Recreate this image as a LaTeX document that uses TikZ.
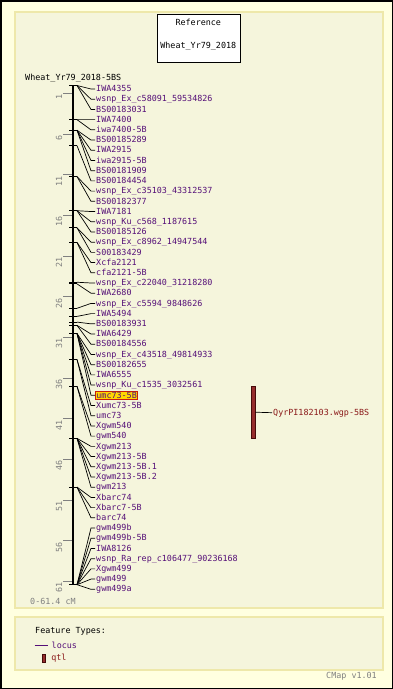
\documentclass[tikz,border=0pt]{standalone}
\usepackage{fontspec}
\setmonofont{DejaVu Sans Mono}
\definecolor{cmapbg}{RGB}{255, 255, 224}
\definecolor{cmappanel}{RGB}{245, 245, 220}
\definecolor{cmapedge}{RGB}{238, 232, 170}
\definecolor{cmapgray}{RGB}{128, 128, 128}
\definecolor{locuspurple}{RGB}{85, 15, 120}
\definecolor{qtlred}{RGB}{139, 26, 26}
\definecolor{qtlfill}{RGB}{150, 45, 45}
\definecolor{qtledge}{RGB}{70, 10, 10}
\definecolor{hiliteyellow}{RGB}{255, 215, 0}
\definecolor{hilitered}{RGB}{200, 30, 10}
\usetikzlibrary{positioning}
\tikzset{
    cmaptext/.style={font=\ttfamily\fontsize{8.4}{10}\selectfont, inner sep=1pt,
                     text height=6pt, text depth=0.6pt},
    marker/.style={cmaptext, text=locuspurple, anchor=west},
    hilite/.style={marker, draw=hilitered, fill=hiliteyellow, line width=0.8pt},
    scalelabel/.style={cmaptext, text=cmapgray, rotate=90, anchor=base east},
    graytext/.style={cmaptext, text=cmapgray},
    panel/.style={draw=cmapedge, fill=cmappanel, line width=2pt},
    refbox/.style={draw=black, fill=white, line width=0.8pt, minimum width=83pt, minimum height=48pt},
    axis/.style={line width=2.2pt, black},
    markertick/.style={line width=1pt, black},
    scaletick/.style={line width=1pt, cmapgray},
    fanline/.style={line width=0.7pt, black},
    qtlbar/.style={draw=qtledge, fill=qtlfill, line width=0.8pt, inner sep=0pt, minimum width=3.5pt},
}

\begin{document}
\begin{tikzpicture}[x=1pt, y=-1pt]
    \useasboundingbox (0,0) rectangle (393,689);
    % Background and panels
    \fill[cmapbg] (0,0) rectangle (393,689);
    \draw[panel] (15,12) rectangle (383,608);
    \draw[panel] (15,617) rectangle (383,670);
    \draw[black, line width=1.5pt] (0.75,0.75) rectangle (392.25,688.25);

    % Reference box
    \node[refbox] (refbox) at (198.6,38.3) {};
    \node[cmaptext] (reftitle) at (198.3,22.5) {Reference};
    \node[cmaptext] (refmap) at (198.3,45.7) {Wheat\_Yr79\_2018};

    % Map axis
    \node[cmaptext, anchor=west] (maptitle) at (24,77.7) {Wheat\_Yr79\_2018-5BS};
    \coordinate (axtop) at (73,85.5);
    \coordinate (axbot) at (73,584.7);
    \draw[axis] (axtop) -- (axbot);
    \draw[markertick] ([xshift=-4pt]axtop) -- ([xshift=4pt]axtop);
    \draw[markertick] ([xshift=-4pt]axbot) -- ([xshift=4pt]axbot);
    \foreach \s in {1,6,...,61}{
        \pgfmathsetmacro\sy{85.5+8.13*\s}
        \draw[scaletick] (63,\sy) -- (72,\sy);
        \node[scalelabel] (s\s) at (62,\sy) {\s};
    }
    \node[graytext, anchor=west] (range) at (29,601.7) {0-61.4 cM};

    % Loci
    \foreach \cm/\name [count=\i from 0] in {
        0/IWA4355, 0/wsnp\_Ex\_c58091\_59534826, 0/BS00183031,
        4.2/IWA7400, 4.2/iwa7400-5B,
        5.5/BS00185289, 5.5/IWA2915, 5.5/iwa2915-5B, 5.5/BS00181909,
        7.4/BS00184454,
        11.2/wsnp\_Ex\_c35103\_43312537, 11.2/BS00182377,
        15.4/IWA7181, 15.4/wsnp\_Ku\_c568\_1187615, 15.4/BS00185126,
        17.5/wsnp\_Ex\_c8962\_14947544, 17.5/S00183429,
        19.3/Xcfa2121, 19.3/cfa2121-5B,
        24.2/wsnp\_Ex\_c22040\_31218280, 24.4/IWA2680,
        27.4/wsnp\_Ex\_c5594\_9848626, 28.4/IWA5494, 29.1/BS00183931,
        29.5/IWA6429, 29.5/BS00184556,
        30.5/wsnp\_Ex\_c43518\_49814933, 30.5/BS00182655, 30.5/IWA6555,
        30.5/wsnp\_Ku\_c1535\_3032561, 30.5/umc73-5B,
        33.7/Xumc73-5B, 33.7/umc73,
        37.0/Xgwm540, 37.0/gwm540,
        43.4/Xgwm213, 43.4/Xgwm213-5B, 43.4/Xgwm213-5B.1, 43.4/Xgwm213-5B.2, 43.4/gwm213,
        49.4/Xbarc74, 49.4/Xbarc7-5B, 49.4/barc74,
        61.4/gwm499b, 61.4/gwm499b-5B, 61.4/IWA8126, 61.4/wsnp\_Ra\_rep\_c106477\_90236168,
        61.4/Xgwm499, 61.4/gwm499, 61.4/gwm499a}{
        \pgfmathsetmacro\ty{85.5+8.13*\cm}
        \pgfmathsetmacro\ly{89+10.21*\i}
        \coordinate (t\i) at (77,\ty);
        \draw[markertick] (69,\ty) -- (t\i);
        \ifnum\i=30
            \node[hilite] (m\i) at (95,\ly) {\name};
        \else
            \node[marker] (m\i) at (95,\ly) {\name};
        \fi
        \draw[fanline] (t\i) -- ([xshift=-4pt]m\i.west) -- (m\i.west);
    }

    % QTL
    \node[qtlbar, minimum height=52pt] (qtl) at (253.3,412.2) {};
    \node[cmaptext, text=qtlred, anchor=west] (qtlname) at (272,412.7) {QyrPI182103.wgp-5BS};
    \draw[fanline] (qtl.east) -- (qtlname.west);

    % Legend
    \node[cmaptext, anchor=west] (legtitle) at (34,631) {Feature Types:};
    \coordinate (loc0) at (34.5,645.5);
    \coordinate (loc1) at (47.5,645.5);
    \draw[line width=1pt, locuspurple] (loc0) -- (loc1);
    \node[marker, right=3pt of loc1] (leglocus) {locus};
    \node[qtlbar, minimum height=8pt] (legqtl) at (44,658) {};
    \node[cmaptext, text=qtlred, right=4pt of legqtl] (legqtlname) {qtl};
    \node[graytext, anchor=east] (version) at (378,676) {CMap v1.01};
\end{tikzpicture}
\end{document}
